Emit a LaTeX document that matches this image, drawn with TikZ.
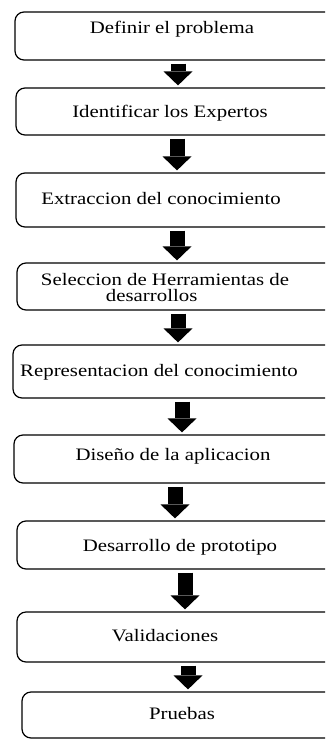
\documentclass[tikz,border=0pt]{standalone}
\usepackage{fontspec}
\setmainfont{Liberation Serif}[FakeStretch=1.19]
\usepackage{tikz}
\usetikzlibrary{arrows.meta}

\begin{document}
\begin{tikzpicture}[x=1pt, y=-1pt, every node/.style={font=\fontsize{17.5}{16}\selectfont}]
		\tikzset{caja/.style={rectangle, rounded corners=9pt, line width=1.2pt, draw=black, inner sep=0}}
		\tikzset{texto/.style={anchor=base, inner sep=0}}
		\tikzset{flecha/.style={line width=15pt, draw=black, shorten <=3pt, shorten >=2pt, -{Triangle[width=29pt, length=14pt, line width=0pt]}}}

		\useasboundingbox (0,0) rectangle (325,740);
		\clip (0,0) rectangle (325,740);

		\node[caja, minimum width=320, minimum height=48] (b1) at (175,36) {};
		\node[texto] (t1) at (172,33) {Definir el problema};

		\node[caja, minimum width=319, minimum height=47] (b2) at (175.5,111.5) {};
		\node[texto] (t2) at (170,117) {Identificar los Expertos};

		\node[caja, minimum width=319, minimum height=54] (b3) at (175.5,200) {};
		\node[texto] (t3) at (161,204) {Extraccion del conocimiento};

		\node[caja, minimum width=318, minimum height=47] (b4) at (176,286.5) {};
		\node[anchor=center, inner sep=0, align=left] (t4) at (165,288) {Seleccion de Herramientas de\\\hspace*{65pt}desarrollos};

		\node[caja, minimum width=322, minimum height=53] (b5) at (174,371.5) {};
		\node[texto] (t5) at (159,376) {Representacion del conocimiento};

		\node[caja, minimum width=321, minimum height=48] (b6) at (174.5,459) {};
		\node[texto] (t6) at (173,460) {Diseño de la aplicacion};

		\node[caja, minimum width=318, minimum height=48] (b7) at (176,545) {};
		\node[texto] (t7) at (180,551) {Desarrollo de prototipo};

		\node[caja, minimum width=318, minimum height=50] (b8) at (176,637) {};
		\node[texto] (t8) at (165,641) {Validaciones};

		\node[caja, minimum width=313, minimum height=46] (b9) at (178.5,715) {};
		\node[texto] (t9) at (182,719) {Pruebas};

		%flechas
		\draw[flecha] ([xshift=3]b1.south) -- ([xshift=3]b1.south |- b2.north);
		\draw[flecha] ([xshift=1.5]b2.south) -- ([xshift=1.5]b2.south |- b3.north);
		\draw[flecha] ([xshift=1.5]b3.south) -- ([xshift=1.5]b3.south |- b4.north);
		\draw[flecha] ([xshift=2]b4.south) -- ([xshift=2]b4.south |- b5.north);
		\draw[flecha] ([xshift=8]b5.south) -- ([xshift=8]b5.south |- b6.north);
		\draw[flecha] ([xshift=0.5]b6.south) -- ([xshift=0.5]b6.south |- b7.north);
		\draw[flecha] ([xshift=9]b7.south) -- ([xshift=9]b7.south |- b8.north);
		\draw[flecha] ([xshift=12]b8.south) -- ([xshift=12]b8.south |- b9.north);

	\end{tikzpicture}
\end{document}
